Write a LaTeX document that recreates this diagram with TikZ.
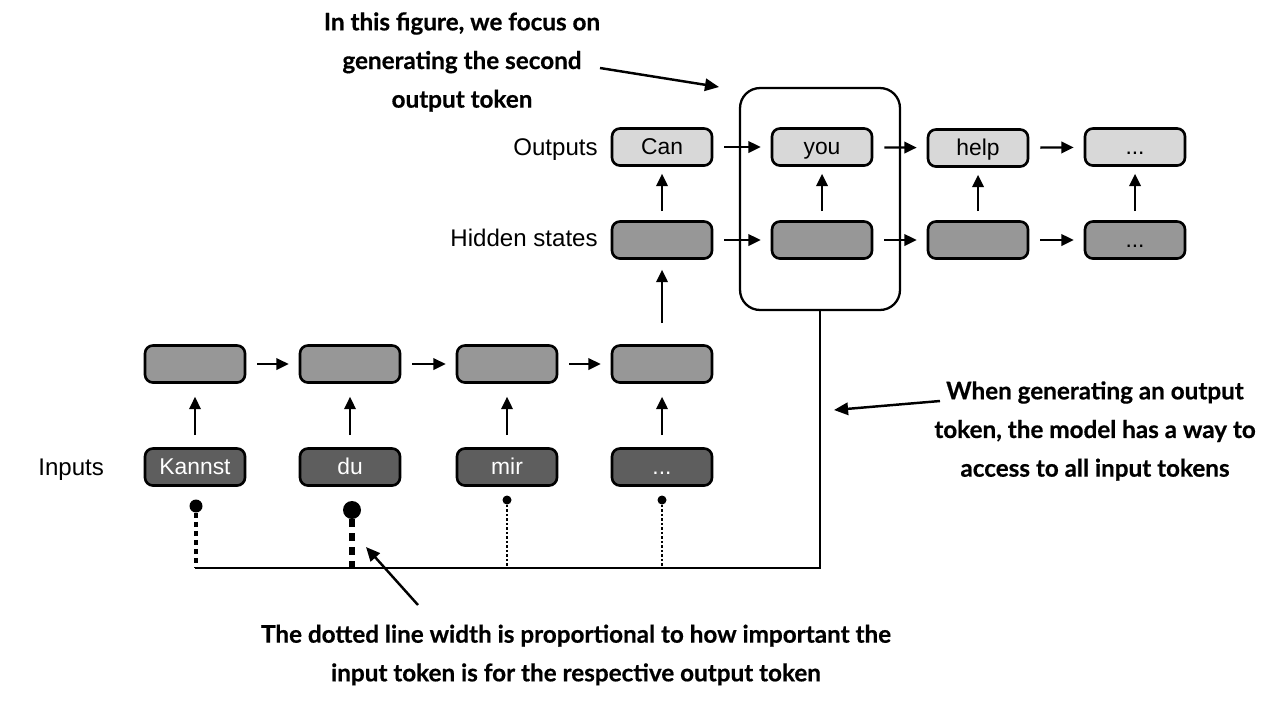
\documentclass[tikz,border=0pt]{standalone}
\usepackage{fontspec}
\setmainfont{Liberation Sans}
\newfontfamily\annfont[BoldFeatures={FakeBold=0.5}]{Lato}
\usetikzlibrary{arrows.meta}
\definecolor{outfill}{HTML}{D8D8D8}
\definecolor{hidfill}{HTML}{979797}
\definecolor{infill}{HTML}{5E5E5E}
\begin{document}
\begin{tikzpicture}[x=0.02cm,y=-0.02cm,
 tok/.style={draw=black, line width=1.5pt, rounded corners=4.5pt, minimum width=2cm, minimum height=0.74cm, inner sep=0pt, text height=9pt, text depth=0pt, font=\fontsize{13}{15}\selectfont},
 outtok/.style={tok, fill=outfill},
 hidtok/.style={tok, fill=hidfill},
 intok/.style={tok, fill=infill, text=white},
 arr/.style={line width=1.3pt, -{Triangle[length=7pt,width=6.5pt]}},
 lbl/.style={font=\fontsize{13.7}{16}\selectfont, anchor=east, inner sep=0pt, text height=9.8pt, text depth=0pt},
 ann/.style={font=\annfont\bfseries\fontsize{13.8}{22}\selectfont, align=center, inner sep=0pt},
 annarr/.style={line width=1.4pt, -{Triangle[length=8pt,width=7pt]}},
 dotc/.style={circle, fill=black, inner sep=0pt},
]
\useasboundingbox (0,0) rectangle (1263,701);

% output row
\node[outtok] (o1) at (662,147) {Can};
\node[outtok] (o2) at (822,147) {you};
\node[outtok] (o3) at (978,148) {help};
\node[outtok] (o4) at (1135,147) {...};
% hidden row
\node[hidtok] (h1) at (662,240) {};
\node[hidtok] (h2) at (822,240) {};
\node[hidtok] (h3) at (978,240) {};
\node[hidtok] (h4) at (1135,240) {...};
% encoder hidden row
\node[hidtok] (e1) at (195,364) {};
\node[hidtok] (e2) at (350,364) {};
\node[hidtok] (e3) at (507,364) {};
\node[hidtok] (e4) at (662,364) {};
% inputs
\node[intok] (i1) at (195,467) {Kannst};
\node[intok] (i2) at (350,467) {du};
\node[intok] (i3) at (507,467) {mir};
\node[intok] (i4) at (662,467) {...};

% labels
\node[lbl] (lo) at (598,147) {Outputs};
\node[lbl] (lh) at (598,238) {Hidden states};
\node[lbl, anchor=west] (li) at (38,467) {Inputs};

% horizontal arrows
\foreach \a/\b in {o1/o2,o2/o3,o3/o4,h1/h2,h2/h3,h3/h4,e1/e2,e2/e3,e3/e4}
  \draw[arr, shorten <=0.22cm, shorten >=0.2cm] (\a) -- (\b);
% vertical arrows
\foreach \a/\b in {i1/e1,i2/e2,i3/e3,i4/e4}
  \draw[arr, shorten <=0.24cm, shorten >=0.26cm] (\a) -- (\b);
\foreach \a/\b in {h1/o1,h2/o2,h3/o3,h4/o4}
  \draw[arr, shorten <=0.18cm, shorten >=0.14cm] (\a) -- (\b);
\draw[arr, shorten <=0.42cm, shorten >=0.2cm] (e4) -- (h1);

% focus box
\node[draw, line width=1.3pt, rounded corners=0.4cm, minimum width=3.2cm, minimum height=4.44cm] (focus) at (820,199) {};

% bus
\coordinate (busL) at (195,568);
\draw[line width=1.3pt] (focus.south) |- (busL);

% attention stems
\node[dotc, minimum size=0.26cm] (c1) at (196,506) {};
\node[dotc, minimum size=0.36cm] (c2) at (352,510) {};
\node[dotc, minimum size=0.18cm] (c3) at (507,500) {};
\node[dotc, minimum size=0.18cm] (c4) at (662,500) {};
\draw[line width=0.08cm, dash pattern=on 0.1cm off 0.08cm] (c1.south) -- (c1.south |- busL);
\draw[line width=0.12cm, dash pattern=on 0.16cm off 0.12cm] (c2.south) -- (c2.south |- busL);
\draw[line width=0.036cm, dash pattern=on 0.05cm off 0.04cm] (c3.south) -- (c3.south |- busL);
\draw[line width=0.036cm, dash pattern=on 0.05cm off 0.04cm] (c4.south) -- (c4.south |- busL);

% annotations
\node[ann] (a1) at (462,62) {In this figure, we focus on\\generating the second\\output token};
\coordinate (a1s) at (600,68);
\coordinate (a1e) at (719,87);
\draw[annarr] (a1s) -- (a1e);

\node[ann] (a2) at (1095,431) {When generating an output\\token, the model has a way to\\access to all input tokens};
\coordinate (a2s) at (940,401);
\coordinate (a2e) at (834,410);
\draw[annarr] (a2s) -- (a2e);

\node[ann] (a3) at (576,655) {The dotted line width is proportional to how important the\\input token is for the respective output token};
\coordinate (a3s) at (418,605);
\coordinate (a3e) at (366,547);
\draw[annarr] (a3s) -- (a3e);
\end{tikzpicture}
\end{document}
